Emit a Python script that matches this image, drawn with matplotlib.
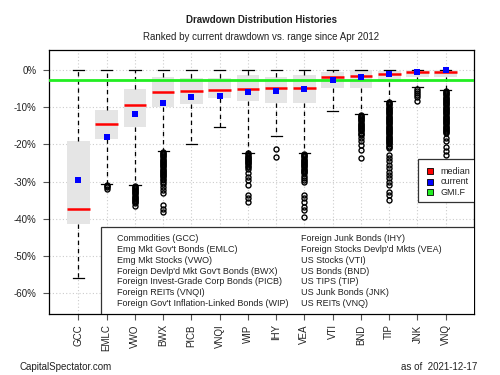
import matplotlib
matplotlib.use("Agg")
import matplotlib.pyplot as plt
from matplotlib.patches import Rectangle

plt.rcParams['font.family'] = ['Liberation Sans', 'DejaVu Sans']

# -------- DATA (drawdown, %) --------
tickers = ["GCC", "EMLC", "VWO", "BWX", "PICB", "VNQI", "WIP",
           "IHY", "VEA", "VTI", "BND", "TIP", "JNK", "VNQ"]

q3 = [-19.2, -10.7, -5.0, -1.8, -2.2, -2.2, -1.2, -1.7, -1.2, -0.4, 0.0, -0.1, 0.0, 0.0]
q1 = [-41.5, -18.6, -15.2, -9.8, -9.1, -7.6, -8.2, -8.9, -8.9, -4.9, -4.9, -3.1, -1.8, -1.8]
medians = [-37.4, -14.4, -9.4, -5.9, -5.5, -5.2, -5.0, -4.7, -4.8, -1.8, -1.5, -0.9, -0.6, -0.4]
currents = [-29.6, -18.0, -11.7, -8.8, -7.2, -7.0, -5.8, -5.6, -5.0, -2.6, -1.7, -1.1, -0.5, 0.0]
whisk_lo = [-55.9, -30.8, -30.9, -21.8, -19.9, -15.2, -22.2, -17.7, -22.4, -11.1, -11.8, -8.4, -4.4, -5.3]
whisk_hi = [0, 0, 0, 0, 0, 0, 0, 0, 0, 0, 0, 0, 0, 0]

out_gcc = []
out_emlc = [-31.0, -31.3, -31.6, -32.0]
out_vwo = [-31.1, -31.4, -31.7, -32.0, -32.3, -32.6, -32.9, -33.2, -33.5, -33.8,
           -34.1, -34.4, -34.7, -35.0, -35.3, -35.6, -35.9, -36.6]
out_bwx = [-22.0, -22.3, -22.6, -22.9, -23.2, -23.5, -23.8, -24.1, -24.4, -24.7,
           -25.0, -25.3, -25.6, -25.9, -26.2, -26.5, -26.8, -27.1, -27.4, -27.7,
           -28.0, -28.3, -28.6, -28.9, -29.2, -29.5, -30.2, -30.8, -31.5, -32.2,
           -33.0, -36.4, -37.3, -38.2]
out_picb = []
out_vnqi = []
out_wip = [-22.4, -22.7, -23.0, -23.3, -23.6, -23.9, -24.2, -24.5, -24.8, -25.1,
           -25.4, -25.7, -26.0, -26.7, -27.6, -28.7, -29.6, -30.9, -33.6, -34.5, -35.5]
out_ihy = [-21.2, -23.3]
out_vea = [-22.6, -22.9, -23.2, -23.5, -23.8, -24.1, -24.4, -24.7, -25.0, -25.3,
           -25.6, -25.9, -26.2, -26.5, -26.8, -27.1, -27.4, -27.8, -28.4, -29.0,
           -29.6, -30.2, -33.6, -34.5, -35.5, -36.8, -37.7, -39.5]
out_vti = []
out_bnd = [-12.0, -12.3, -12.6, -12.9, -13.2, -13.5, -13.8, -14.1, -14.4, -14.7,
           -15.0, -15.3, -15.6, -15.9, -16.2, -16.5, -16.8, -17.1, -17.4,
           -18.3, -19.2, -20.1, -21.5, -23.7]
out_tip = [-8.6, -8.9, -9.2, -9.5, -9.8, -10.1, -10.4, -10.7, -11.0, -11.3,
           -11.6, -11.9, -12.2, -12.5, -12.8, -13.1, -13.4, -13.7, -14.0, -14.3,
           -14.6, -14.9, -15.2, -15.5, -15.8, -16.1, -16.4, -16.7, -17.0, -17.3,
           -17.6, -17.9, -18.2, -18.5, -18.8, -19.1, -19.4, -19.7, -20.0, -20.3,
           -20.6, -21.0, -22.8, -23.7, -24.6, -25.5, -26.4, -27.4, -28.2, -29.1,
           -30.1, -30.9, -32.8, -33.6, -35.0]
out_jnk = [-5.0, -5.5, -6.0, -6.6, -7.3, -8.2]
out_vnq = [-5.6, -5.9, -6.2, -6.5, -6.8, -7.1, -7.4, -7.7, -8.0, -8.3,
           -8.6, -8.9, -9.2, -9.5, -9.8, -10.1, -10.4, -10.7, -11.0, -11.3,
           -11.6, -11.9, -12.2, -12.5, -12.8, -13.1, -13.4, -13.7, -14.0, -14.3,
           -14.6, -14.9, -15.2, -15.5, -15.8, -16.1, -16.4, -16.7, -17.0,
           -18.3, -19.2, -20.6, -21.7, -22.8]
outliers = [out_gcc, out_emlc, out_vwo, out_bwx, out_picb, out_vnqi, out_wip,
            out_ihy, out_vea, out_vti, out_bnd, out_tip, out_jnk, out_vnq]

gmi_f = -2.6

names_left = ["Commodities (GCC)", "Emg Mkt Gov't Bonds (EMLC)", "Emg Mkt Stocks (VWO)",
              "Foreign Devlp'd Mkt Gov't Bonds (BWX)", "Foreign Invest-Grade Corp Bonds (PICB)",
              "Foreign REITs (VNQI)", "Foreign Gov't Inflation-Linked Bonds (WIP)"]
names_right = ["Foreign Junk Bonds (IHY)", "Foreign Stocks Devlp'd Mkts (VEA)", "US Stocks (VTI)",
               "US Bonds (BND)", "US TIPS (TIP)", "US Junk Bonds (JNK)", "US REITs (VNQ)"]

yticks = [0, -10, -20, -30, -40, -50, -60]

# -------- FIGURE --------
fig = plt.figure(figsize=(5, 3.75), dpi=100)
ax = fig.add_axes([0.098, 0.164, 0.850, 0.703])

positions = list(range(1, len(tickers) + 1))
stats = []
for i in range(len(tickers)):
    stats.append(dict(med=medians[i], q1=q1[i], q3=q3[i], whislo=whisk_lo[i],
                      whishi=whisk_hi[i], fliers=outliers[i]))

ax.bxp(stats, positions=positions, widths=0.8, patch_artist=True, showfliers=True,
       boxprops=dict(facecolor='#E5E5E5', edgecolor='none'),
       whiskerprops=dict(color='black', linestyle=(0, (3.5, 3)), lw=0.9),
       capprops=dict(color='black', lw=0.9),
       medianprops=dict(color='red', lw=1.8),
       flierprops=dict(marker='o', markerfacecolor='none', markeredgecolor='black',
                       markersize=3.6, markeredgewidth=1.0))

ax.scatter(positions, currents, marker='s', color='blue', s=20, zorder=5, linewidths=0)
ax.axhline(gmi_f, color='#22EE22', lw=2, zorder=4)

ax.set_xlim(-0.04, 15.0)
ax.set_ylim(-65.6, 5.5)
ax.set_axisbelow(True)
ax.grid(True, color='#CCCCCC', linestyle=(0, (1, 2)), lw=0.8)

ax.set_yticks(yticks)
ax.set_yticklabels([f"{v}%" for v in yticks])
ax.set_xticks(positions)
ax.set_xticklabels(tickers, rotation=90)
ax.tick_params(axis='both', labelsize=7, colors='#222222', length=4.3, width=0.8)
ax.tick_params(axis='y', pad=4.5, color='#555555')
ax.tick_params(axis='x', pad=3.5, color='#555555')
for s in ax.spines.values():
    s.set_linewidth(0.9)

# -------- NAMES BOX --------
ax.add_patch(Rectangle((1.81, -65.6), 13.5, 23.4, facecolor='white', edgecolor='#333333',
                       lw=0.9, zorder=10, clip_on=True))
row_y = [-45.5, -48.4, -51.3, -54.2, -57.1, -60.0, -62.8]
for i in range(len(names_left)):
    ax.text(2.38, row_y[i], names_left[i], fontsize=6.5, va='center', color='#222222', zorder=11)
    ax.text(8.89, row_y[i], names_right[i], fontsize=6.5, va='center', color='#222222', zorder=11)

# -------- LEGEND --------
ax.add_patch(Rectangle((13.01, -35.5), 2.5, 11.6, facecolor='white', edgecolor='#333333',
                       lw=0.9, zorder=10, clip_on=True))
leg_labels = ["median", "current", "GMI.F"]
leg_colors = ["red", "blue", "#22EE22"]
leg_y = [-27.2, -30.1, -32.9]
for lab, col, yy in zip(leg_labels, leg_colors, leg_y):
    ax.scatter([13.44], [yy], marker='s', s=22, color=col, edgecolors='black',
               linewidths=0.6, zorder=11)
    ax.text(13.81, yy, lab, fontsize=6.5, va='center', color='#222222', zorder=11)

# -------- TITLES --------
fig.text(0.523, 1 - 20 / 375, "Drawdown Distribution Histories", ha='center', va='center',
         fontsize=7, fontweight='bold', color='#222222')
fig.text(0.523, 1 - 37 / 375, "Ranked by current drawdown vs. range since Apr 2012",
         ha='center', va='center', fontsize=7, color='#222222')
fig.text(20 / 500, 1 - 367 / 375, "CapitalSpectator.com", ha='left', va='center',
         fontsize=7, color='#222222')
fig.text(477 / 500, 1 - 367 / 375, "as of  2021-12-17", ha='right', va='center',
         fontsize=7, color='#222222')

fig.savefig("out.png", dpi=100)
